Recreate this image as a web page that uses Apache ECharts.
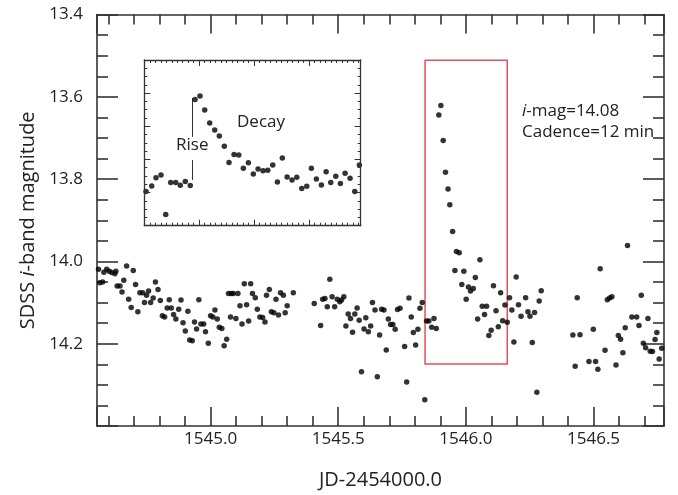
<!DOCTYPE html>
<html>
<head>
<meta charset="utf-8">
<script src="https://cdn.jsdelivr.net/npm/echarts@6/dist/echarts.min.js"></script>
<style>
html,body{margin:0;padding:0;background:#fff;}
#c{width:678px;height:495px;}
</style>
</head>
<body>
<div id="c"></div>
<script>
// ---------------- DATA ----------------
// Main light curve: [JD-2454000.0, SDSS i magnitude]
const segA = [[1544.561,14.019],[1544.566,14.052],[1544.577,14.050],[1544.582,14.026],[1544.593,14.019],[1544.603,14.024],[1544.613,14.027],[1544.625,14.030],[1544.629,14.024],[1544.634,14.060],[1544.645,14.060],[1544.653,14.074],[1544.660,14.046],[1544.671,14.011],[1544.679,14.092],[1544.689,14.112],[1544.697,14.022],[1544.706,14.056],[1544.715,14.122],[1544.723,14.076],[1544.734,14.076],[1544.741,14.100],[1544.749,14.082],[1544.757,14.072],[1544.765,14.100],[1544.775,14.089],[1544.784,14.050],[1544.794,14.068],[1544.803,14.095],[1544.811,14.132],[1544.820,14.135],[1544.830,14.113],[1544.838,14.093],[1544.846,14.113],[1544.855,14.129],[1544.864,14.140],[1544.875,14.116],[1544.884,14.094],[1544.892,14.149],[1544.901,14.169],[1544.911,14.121],[1544.918,14.191],[1544.928,14.193],[1544.937,14.147],[1544.945,14.164],[1544.954,14.093],[1544.962,14.152],[1544.973,14.152],[1544.980,14.171],[1544.991,14.199]];
const segB = [[1545.000,14.132],[1545.009,14.135],[1545.017,14.118],[1545.026,14.140],[1545.034,14.160],[1545.044,14.163],[1545.053,14.205],[1545.063,14.189],[1545.070,14.078],[1545.078,14.135],[1545.081,14.078],[1545.089,14.078],[1545.099,14.139],[1545.107,14.078],[1545.115,14.108],[1545.123,14.152],[1545.132,14.054],[1545.141,14.105],[1545.149,14.145],[1545.157,14.054],[1545.164,14.078],[1545.175,14.088],[1545.183,14.116],[1545.193,14.135],[1545.204,14.136],[1545.213,14.147],[1545.219,14.082],[1545.230,14.068],[1545.238,14.122],[1545.248,14.125],[1545.256,14.092],[1545.266,14.130],[1545.274,14.076],[1545.285,14.082],[1545.292,14.125],[1545.300,14.108],[1545.324,14.076]];
const segC = [[1545.406,14.102],[1545.431,14.156],[1545.439,14.092],[1545.448,14.090],[1545.457,14.110],[1545.467,14.043],[1545.476,14.086],[1545.486,14.110],[1545.496,14.092],[1545.506,14.098],[1545.513,14.094],[1545.522,14.086],[1545.530,14.157],[1545.539,14.128],[1545.548,14.139],[1545.556,14.172],[1545.565,14.128],[1545.574,14.113],[1545.582,14.143],[1545.591,14.268],[1545.601,14.164],[1545.608,14.137],[1545.618,14.171],[1545.627,14.157],[1545.634,14.100],[1545.644,14.118],[1545.653,14.280],[1545.662,14.179],[1545.670,14.116],[1545.679,14.118],[1545.688,14.215],[1545.696,14.140],[1545.705,14.153],[1545.714,14.153],[1545.723,14.165],[1545.732,14.117],[1545.742,14.114],[1545.760,14.207],[1545.768,14.293],[1545.777,14.089],[1545.786,14.135],[1545.794,14.173],[1545.803,14.203],[1545.812,14.165],[1545.820,14.114],[1545.829,14.100],[1545.839,14.336],[1545.846,14.145],[1545.855,14.145],[1545.866,14.160],[1545.875,14.139],[1545.884,14.163]];
const flare = [[1545.894,13.644],[1545.902,13.621],[1545.911,13.706],[1545.920,13.783],[1545.930,13.824],[1545.937,13.862],[1545.948,13.927],[1545.957,14.022],[1545.963,13.976],[1545.974,13.979],[1545.984,14.056],[1545.992,14.024],[1546.001,14.092],[1546.010,14.062],[1546.018,14.072],[1546.029,14.066],[1546.037,14.039],[1546.046,14.140],[1546.055,13.996],[1546.064,14.109],[1546.073,14.129],[1546.081,14.109],[1546.090,14.180],[1546.099,14.167],[1546.108,14.059],[1546.118,14.120],[1546.127,14.159],[1546.136,14.076],[1546.144,14.144],[1546.153,14.106],[1546.162,14.148],[1546.171,14.088],[1546.180,14.118],[1546.188,14.196],[1546.197,14.038],[1546.206,14.105],[1546.216,14.133],[1546.234,14.088],[1546.243,14.122],[1546.251,14.133],[1546.260,14.197],[1546.269,14.124],[1546.278,14.318],[1546.287,14.096],[1546.295,14.071]];
const segD = [[1546.419,14.179],[1546.428,14.255],[1546.436,14.088],[1546.447,14.178],[1546.482,14.243],[1546.499,14.165],[1546.508,14.243],[1546.517,14.262],[1546.526,14.018],[1546.545,14.216],[1546.554,14.093],[1546.563,14.089],[1546.572,14.086],[1546.588,14.252],[1546.597,14.180],[1546.606,14.189],[1546.615,14.222],[1546.624,14.161],[1546.633,13.961],[1546.650,14.135],[1546.669,14.135],[1546.678,14.156],[1546.687,14.082],[1546.695,14.199],[1546.704,14.210],[1546.713,14.139],[1546.722,14.218],[1546.731,14.219],[1546.741,14.190],[1546.748,14.173],[1546.757,14.237],[1546.767,14.211]];

// Highlighted flare box [jdStart, magTop, jdEnd, magBottom]
const flareBox = [1545.840, 13.511, 1546.162, 14.249];

// Inset (schematic flare, arbitrary units)
const insetTime = [0.031,0.135,0.213,0.304,0.390,0.481,0.572,0.655,0.747,0.837,0.924,1.014,1.100,1.191,1.282,1.366,1.457,1.542,1.634,1.720,1.803,1.895,1.985,2.071,2.162,2.248,2.339,2.423,2.513,2.600,2.690,2.776,2.867,2.958,3.042,3.133,3.224,3.310,3.395,3.486,3.570,3.656,3.746,3.832,3.916];
const insetMag  = [3.97,3.80,3.55,3.47,4.66,3.70,3.70,3.78,3.67,3.79,1.19,1.09,1.51,1.90,2.11,2.29,2.60,3.09,2.85,2.87,3.27,3.10,3.44,3.29,3.34,3.33,3.17,3.68,2.96,3.53,3.62,3.54,3.88,3.81,3.27,3.59,3.77,3.37,3.70,3.51,3.73,3.42,3.57,3.97,3.17];
// Rise marker: x position and the two segments (y ranges) around the label
const riseX = 0.882;
const riseSegments = [[1.15, 2.32], [3.02, 3.62]];

// Tick labels
const xTickLabels = ['1545.0', '1545.5', '1546.0', '1546.5'];
const yTickLabels = ['13.4', '13.6', '13.8', '14.0', '14.2'];

// Axis ranges
const xRange = [1544.555, 1546.776];
const yRange = [13.4, 14.4];
const insetXRange = [0, 3.94];
const insetYRange = [0, 5];

// ---------------- CHART ----------------
const FONT = '"Open Sans", "Noto Sans", sans-serif';
const AX = '#333333';
const TXT = '#222222';

const chart = echarts.init(document.getElementById('c'), null, {renderer: 'canvas'});

function mainX(position, showLabel) {
  return {
    gridIndex: 0, type: 'value', position: position,
    min: xRange[0], max: xRange[1], splitNumber: 5,
    axisLine: {show: true, onZero: false, lineStyle: {color: AX, width: 1.6}},
    axisTick: {show: true, inside: true, length: 19, lineStyle: {color: AX, width: 1.6}},
    minorTick: {show: true, splitNumber: 5, length: 10, lineStyle: {color: AX, width: 1.6}},
    splitLine: {show: false}, minorSplitLine: {show: false},
    axisLabel: {
      show: showLabel, margin: 5, fontSize: 17, color: TXT, fontFamily: FONT,
      formatter: v => { const s = (+v).toFixed(1); return xTickLabels.indexOf(s) >= 0 ? s : ''; }
    },
    name: showLabel ? 'JD-2454000.0' : '',
    nameLocation: 'middle', nameGap: 44,
    nameTextStyle: {fontSize: 20, color: TXT, fontFamily: FONT}
  };
}
function mainY(position, showLabel) {
  return {
    gridIndex: 0, type: 'value', position: position, inverse: true,
    min: yRange[0], max: yRange[1], interval: 0.2,
    axisLine: {show: true, onZero: false, lineStyle: {color: AX, width: 1.6}},
    axisTick: {show: true, inside: true, length: 21, lineStyle: {color: AX, width: 1.6}},
    minorTick: {show: true, splitNumber: 4, length: 11, lineStyle: {color: AX, width: 1.6}},
    splitLine: {show: false}, minorSplitLine: {show: false},
    axisLabel: {
      show: showLabel, margin: 14, fontSize: 17, color: TXT, fontFamily: FONT,
      formatter: v => { const s = (+v).toFixed(1); return yTickLabels.indexOf(s) >= 0 ? s : ''; }
    },
    name: showLabel ? 'SDSS {it|i}-band magnitude' : '',
    nameLocation: 'middle', nameGap: 52,
    nameTextStyle: {fontSize: 20, color: TXT, fontFamily: FONT,
      rich: {it: {fontStyle: 'italic', fontSize: 20, color: TXT, fontFamily: FONT}}}
  };
}
function insetX(position) {
  return {
    gridIndex: 1, type: 'value', position: position, z: 6,
    min: insetXRange[0], max: insetXRange[1], interval: 1,
    axisLine: {show: true, onZero: false, lineStyle: {color: AX, width: 1.3}},
    axisTick: {show: true, inside: true, length: 6, lineStyle: {color: AX, width: 1}},
    minorTick: {show: true, splitNumber: 10, length: 3, lineStyle: {color: AX, width: 1}},
    splitLine: {show: false}, minorSplitLine: {show: false}, axisLabel: {show: false}
  };
}
function insetY(position) {
  return {
    gridIndex: 1, type: 'value', position: position, inverse: true, z: 6,
    min: insetYRange[0], max: insetYRange[1], interval: 1,
    axisLine: {show: true, onZero: false, lineStyle: {color: AX, width: 1.3}},
    axisTick: {show: true, inside: true, length: 6, lineStyle: {color: AX, width: 1}},
    minorTick: {show: true, splitNumber: 4, length: 3, lineStyle: {color: AX, width: 1}},
    splitLine: {show: false}, minorSplitLine: {show: false}, axisLabel: {show: false}
  };
}

const mainData = segA.concat(segB, segC, flare, segD);
const insetData = insetTime.map((t, i) => [t, insetMag[i]]);

const option = {
  backgroundColor: '#ffffff',
  animation: false,
  grid: [
    {left: 97, top: 14.6, width: 567, height: 413.5, containLabel: false},
    {left: 144.3, top: 60, width: 216.4, height: 165.7, containLabel: false}
  ],
  xAxis: [mainX('bottom', true), mainX('top', false), insetX('bottom'), insetX('top')],
  yAxis: [mainY('left', true), mainY('right', false), insetY('left'), insetY('right')],
  series: [
    {
      type: 'scatter', xAxisIndex: 0, yAxisIndex: 0,
      data: mainData, symbolSize: 5.5,
      itemStyle: {color: '#000000'},
      markArea: {
        silent: true,
        itemStyle: {color: 'rgba(0,0,0,0)', borderColor: '#e2505c', borderWidth: 1.5},
        data: [[{coord: [flareBox[0], flareBox[1]]}, {coord: [flareBox[2], flareBox[3]]}]]
      }
    },
    {
      type: 'scatter', xAxisIndex: 2, yAxisIndex: 2, z: 5,
      data: insetData, symbolSize: 5.5,
      itemStyle: {color: '#000000'},
      markLine: {
        silent: true, symbol: ['none', 'none'],
        label: {show: false},
        lineStyle: {color: '#333', width: 1, type: 'solid'},
        data: riseSegments.map(s => [{coord: [riseX, s[0]]}, {coord: [riseX, s[1]]}])
      }
    }
  ],
  graphic: [
    {type: 'text', left: 176, top: 137, z: 10,
     style: {text: 'Rise', fontSize: 17, fontFamily: FONT, fill: TXT}},
    {type: 'text', left: 237, top: 114, z: 10,
     style: {text: 'Decay', fontSize: 17, fontFamily: FONT, fill: TXT}},
    {type: 'text', left: 522, top: 101, z: 10,
     style: {text: '{it|i}-mag=14.08\nCadence=12 min', fontSize: 17, lineHeight: 21,
       fontFamily: FONT, fill: TXT,
       rich: {it: {fontStyle: 'italic', fontSize: 17, fontFamily: FONT, fill: TXT, lineHeight: 21}}}}
  ]
};
chart.setOption(option);
</script>
</body>
</html>
